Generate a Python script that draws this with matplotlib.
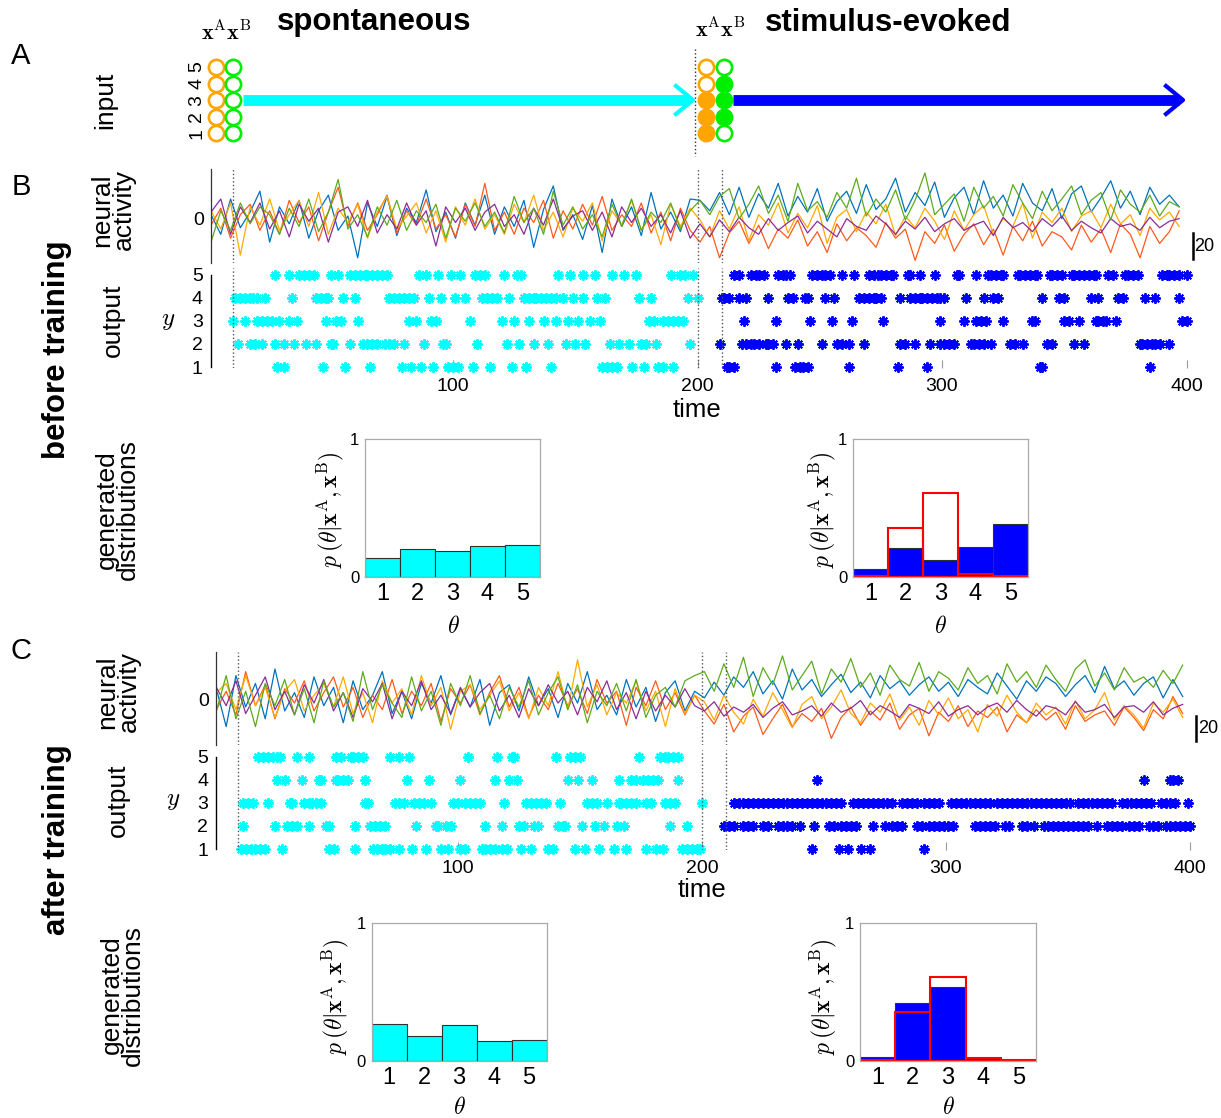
import numpy as np
import matplotlib.pyplot as plt

plt.rcParams['font.family'] = ['Liberation Sans', 'DejaVu Sans']
plt.rcParams['mathtext.fontset'] = 'cm'

W, H = 1221, 1118

# ---------------- data ----------------
theta = [1, 2, 3, 4, 5]
p_target = [0.01, 0.355, 0.61, 0.025, 0.005]
p_spont_before = [0.135, 0.205, 0.185, 0.228, 0.235]
p_evoked_before = [0.06, 0.208, 0.123, 0.22, 0.383]
p_spont_after = [0.267, 0.183, 0.26, 0.144, 0.151]
p_evoked_after = [0.031, 0.42, 0.535, 0.02, 0.0]

# input units 1..5, 1 = active
input_rows = [1, 2, 3, 4, 5]
xA_spont = [0, 0, 0, 0, 0]
xB_spont = [0, 0, 0, 0, 0]
xA_evoked = [1, 1, 1, 0, 0]
xB_evoked = [0, 1, 1, 1, 0]

epoch_marks = [10, 200, 210]
time_ticks = [100, 200, 300, 400]

# neural activity, sampled every 4 time steps (t = 1, 5, ..., 397)
t_act = np.arange(1, 400, 4)

b_blue = [3, -12, 15, -7, 5, 21, -18, 9, -4, 14,
          -15, 6, 18, -9, 2, -30, 12, -6, 17, -13,
          8, -3, 22, -10, 5, -15, 12, -5, 18, -12,
          9, -6, 14, -22, 7, 25, -9, 3, -16, 10,
          -26, 15, -6, 9, -13, 20, -8, 5, -10, 15,
          14, 6, 20, 3, 24, 1, 19, 8, 27, 2,
          17, 5, 23, -2, 13, 21, 4, 26, 7, 15,
          31, 5, 20, 10, 28, 1, 16, 24, 3, 29,
          8, 18, 2, 27, 12, 6, 23, 0, 19, 25,
          5, 16, 29, 8, 21, 3, 24, 11, 18, 9]
b_red = [-5, 8, -15, 3, 11, -9, 6, -12, 14, -3,
         9, -17, 5, 24, -6, 12, -9, 3, 18, -11,
         6, -5, 15, -8, 3, -14, 11, -6, 27, -9,
         5, -12, 8, -3, 14, -15, 6, -8, 11, -5,
         17, -9, 3, -6, 12, -11, 5, -17, 8, -9,
         -18, -6, -30, -11, -2, -19, -5, -23, -8, -15,
         -1, -21, -10, -26, -4, -17, -7, -13, -22, -3,
         -15, -8, -32, -10, -19, -5, -25, -12, -4, -20,
         -8, -28, -6, -17, -2, -21, -10, -14, -24, -5,
         -18, -8, -26, -4, -12, -30, -6, -19, -10, 6]
b_orange = [6, -8, 12, -28, 9, -5, 15, -9, 3, 14,
            -6, 20, -12, 8, -3, 11, -15, 5, 17, -8,
            2, 12, -11, 6, -18, 9, -5, 15, -8, 3,
            -12, 11, -3, 18, -9, 5, -14, 8, -2, 12,
            -17, 6, -5, 14, -9, 3, -20, 11, -6, 8,
            -1, -14, 6, -8, 9, -17, 3, -5, 12, -11,
            4, -7, 10, -19, 1, 7, -10, 5, -4, 11,
            -13, 2, -7, 8, -2, -16, 6, -9, 3, 10,
            -12, 0, -6, 12, -15, 5, -3, 8, -10, 2,
            6, -7, 11, -4, 3, -13, 8, -1, 5, -6]
b_purple = [5, 15, -12, 9, -3, 12, -8, 6, -14, 11,
            -2, 8, -18, 5, 9, -6, 14, -11, 3, -8,
            12, -5, 6, -21, 9, -3, 8, -9, 5, 11,
            -6, 3, -12, 8, -5, 15, -8, 2, 6, -9,
            5, -14, 9, -3, 8, -6, 3, -11, 6, -15,
            -4, -14, -1, -10, 1, -7, -12, 0, -9, -3,
            2, -11, -2, -8, -14, 0, -6, -9, 2, -4,
            -12, -2, -8, 1, -10, -4, 0, -9, -5, -2,
            -13, 1, -7, -3, -10, 0, -6, 2, -9, -2,
            -7, -11, 0, -6, -4, -9, 1, -7, -2, 0]
b_green = [-18, 6, -9, 12, -4, 9, 3, -12, 8, -6,
           15, -10, 5, 30, -8, 3, -14, 9, -5, 14,
           -9, 6, -3, 11, -15, 8, -2, 12, -6, 5,
           -11, 17, -3, 8, -12, 21, -5, 9, -8, 3,
           -14, 11, -6, 15, -9, 5, -3, 12, -8, 6,
           14, 3, 17, 23, 0, 11, 25, 4, 18, -2,
           27, 6, 13, 1, 20, 8, 31, 2, 15, 5,
           22, -1, 14, 35, 3, 11, 19, -2, 24, 8,
           17, 2, 26, 12, 0, 21, 6, 15, 25, 3,
           14, 20, -1, 22, 11, 5, 18, 2, 13, 9]

c_blue = [8, -21, 18, -6, 12, -15, 23, -9, 5, -14,
          17, -5, 9, -18, 14, -8, 3, 21, -11, 6,
          -15, 12, -3, 18, -12, 8, -6, 15, -20, 5,
          11, -9, 17, -5, 8, -14, 12, -3, 21, -8,
          3, -12, 15, -6, 9, -17, 5, 14, -9, 6,
          1, 13, 3, 17, 9, 21, 4, 14, 0, 23,
          7, 15, 2, 11, 19, 5, 13, 1, 18, 8,
          14, 3, 11, 17, 6, 13, 2, 15, 9, 4,
          20, 10, 0, 14, 6, 17, 12, 2, 11, 18,
          5, 25, 8, 14, 3, 12, 17, 1, 15, 2]
c_red = [-8, 6, -12, 21, -5, 11, -15, 8, -3, 14,
         -9, 5, 17, -6, 9, -14, 3, -8, 15, -11,
         6, -5, 12, -17, 8, -3, 11, -12, 5, 18,
         -6, 9, -14, 3, -8, 12, -5, 8, -11, 15,
         -3, 6, -20, 9, -5, 14, -8, 5, -12, 3,
         -9, -19, -4, -25, -13, -6, -27, -15, -4, -21,
         -11, -17, -7, -30, -14, -6, -20, -9, -16, -3,
         -23, -12, -7, -28, -10, -17, -5, -21, -9, -14,
         -6, -25, -12, -18, -8, -16, -10, -23, -5, -17,
         -12, -9, -20, -6, -14, -24, -8, -15, 2, -11]
c_orange = [5, 12, -8, 18, -5, 9, -14, 6, 15, -9,
            3, 12, -6, 17, -11, 5, -18, 14, -3, 8,
            -12, 18, -5, 9, -23, 6, 11, -8, 3, 14,
            -9, 5, -15, 9, -5, 21, -8, 30, -6, 11,
            -12, 5, -3, 14, -9, 6, -21, 8, -11, 3,
            -2, -16, 3, -10, -19, 0, -13, 5, -8, -22,
            -4, 2, -15, -6, 7, -11, -18, -3, -10, 4,
            -16, -6, -20, -1, -12, 1, -15, -8, -25, -4,
            -13, 3, -10, -18, -3, -12, -6, -19, -1, -15,
            -8, 5, -16, -5, -12, -22, -3, -10, 0, -14]
c_purple = [9, -5, 14, -11, 3, 17, -8, 6, -12, 11,
            -3, 15, -9, 5, -14, 8, -2, 12, -15, 6,
            -5, 14, -8, 3, -11, 9, -6, 5, 12, -9,
            3, -14, 8, -5, 11, -3, 6, -12, 9, -2,
            14, -8, 5, -15, 6, -9, 3, -6, 8, -5,
            -9, -2, -13, -6, -10, -4, -14, -7, -2, -12,
            -9, -5, -13, -3, -10, -7, -1, -12, -5, -9,
            -14, -4, -7, -11, -2, -13, -8, -5, -12, -6,
            -3, -10, -1, -8, -13, -5, -7, -12, -2, -10,
            -8, -4, -14, -6, -5, -10, -2, -12, -7, -4]
c_green = [-9, 18, -15, 6, -21, 12, -5, 15, -12, 8,
           -18, 14, -6, 5, -17, 21, -8, 11, -3, -14,
           17, -9, 6, -20, 12, -5, 18, -11, 3, -15,
           9, -6, 14, -12, 5, 17, -8, 11, -18, 6,
           -5, 12, -9, 15, -14, 3, 9, -6, 14, 18,
           21, 6, 27, 9, 32, 2, 24, 11, 33, 7,
           18, 29, 4, 23, 13, 31, 9, 20, 3, 26,
           15, 10, 28, 6, 21, 16, 7, 24, 12, 18,
           4, 27, 13, 21, 9, 26, 15, 6, 23, 30,
           10, 20, 7, 24, 13, 17, 9, 22, 12, 26]

# output spikes, one list per output unit y = 1..5
b_spont_spikes = [
    [28, 31, 47, 56, 66, 79, 83, 87, 92, 98, 100, 102, 108, 115, 124, 130, 140,
     161, 163, 165, 167, 173, 178, 184, 186, 190],
    [12, 17, 19, 22, 27, 31, 35, 40, 44, 50, 51, 58, 63, 65, 67, 69, 72, 74, 76,
     80, 88, 96, 97, 110, 122, 127, 133, 139, 146, 150, 154, 164, 168, 172, 177,
     179, 183, 197],
    [10, 15, 20, 22, 24, 26, 29, 33, 36, 48, 52, 54, 61, 82, 85, 91, 93, 107, 120,
     125, 131, 137, 142, 147, 151, 156, 160, 180, 182, 186, 188, 190, 192, 194],
    [11, 13, 15, 17, 18, 20, 23, 34, 44, 46, 48, 49, 55, 60, 74, 76, 78, 80, 82,
     84, 90, 95, 101, 105, 112, 114, 116, 118, 123, 129, 131, 133, 134, 136, 138,
     140, 142, 145, 149, 153, 159, 162, 176, 181, 196, 200],
    [27, 33, 37, 39, 41, 43, 50, 53, 58, 60, 62, 64, 65, 67, 69, 71, 73, 86, 89,
     94, 99, 103, 109, 111, 113, 121, 126, 128, 143, 148, 153, 158, 165, 170, 175,
     189, 193, 195, 198],
]
b_evoked_spikes = [
    [212, 213, 215, 232, 240, 242, 243, 245, 262, 282, 294, 340, 341, 385],
    [209, 218, 220, 222, 223, 225, 228, 229, 231, 236, 241, 251, 257, 259, 262,
     268, 283, 285, 289, 295, 299, 301, 303, 305, 312, 313, 315, 317, 320, 328,
     330, 333, 343, 345, 354, 358, 381, 382, 384, 386, 387, 389, 393],
    [219, 232, 246, 255, 263, 276, 299, 309, 314, 316, 318, 325, 337, 338, 350,
     352, 356, 363, 364, 366, 367, 371, 398, 400],
    [210, 211, 213, 217, 220, 229, 237, 239, 244, 245, 252, 256, 266, 268, 270,
     272, 273, 275, 283, 287, 289, 291, 292, 294, 296, 298, 299, 301, 310, 317,
     321, 323, 341, 348, 350, 361, 364, 372, 374, 383, 387, 397],
    [215, 217, 222, 224, 225, 227, 233, 235, 236, 238, 247, 249, 251, 252, 254,
     259, 264, 270, 272, 274, 275, 277, 279, 280, 286, 287, 291, 297, 306, 307,
     314, 319, 320, 322, 324, 325, 331, 332, 334, 336, 338, 339, 344, 345, 347,
     349, 353, 354, 356, 358, 360, 362, 363, 368, 370, 375, 376, 378, 380, 390,
     392, 393, 395, 397, 400],
]
c_spont_spikes = [
    [11, 13, 15, 17, 19, 21, 28, 47, 49, 58, 65, 67, 69, 70, 72, 76, 81, 87, 93,
     96, 101, 103, 110, 111, 113, 115, 118, 120, 126, 130, 137, 139, 148, 152,
     158, 164, 169, 177, 181, 184, 192, 194, 196, 198, 199],
    [12, 25, 30, 32, 34, 39, 46, 47, 58, 64, 66, 68, 70, 83, 91, 92, 95, 97, 111,
     118, 125, 127, 131, 133, 141, 143, 144, 151, 156, 160, 165, 168, 187, 194],
    [12, 14, 16, 22, 31, 32, 37, 39, 40, 42, 44, 62, 63, 74, 76, 78, 82, 84, 86,
     89, 98, 100, 103, 105, 107, 109, 119, 128, 130, 132, 134, 136, 142, 153, 155,
     157, 161, 166, 167, 169, 171, 173, 177, 179, 185, 187, 189, 200],
    [26, 29, 36, 43, 44, 50, 51, 53, 55, 62, 79, 88, 101, 115, 121, 124, 145, 149,
     155, 166, 171, 173, 176, 178, 180, 182, 190],
    [18, 20, 22, 24, 26, 27, 34, 39, 50, 52, 56, 57, 59, 61, 72, 76, 80, 104, 116,
     122, 123, 140, 146, 148, 150, 174, 183, 185, 186, 188, 190],
]
c_evoked_spikes = [
    [245, 256, 260, 265, 269, 291],
    [209, 211, 213, 217, 219, 221, 225, 227, 231, 233, 235, 237, 240, 246, 252,
     254, 257, 259, 261, 263, 270, 275, 278, 280, 282, 288, 290, 293, 295, 297,
     299, 301, 303, 312, 314, 316, 318, 320, 324, 326, 331, 333, 336, 340, 342,
     344, 346, 348, 350, 352, 354, 356, 358, 362, 366, 368, 370, 372, 375, 377,
     379, 383, 385, 387, 390, 392, 394, 396, 398, 400],
    [213, 215, 217, 219, 221, 223, 225, 227, 229, 231, 233, 235, 237, 239, 241,
     243, 245, 247, 249, 251, 253, 255, 257, 262, 264, 266, 268, 270, 272, 274,
     276, 278, 282, 284, 286, 288, 291, 293, 295, 297, 302, 304, 306, 308, 310,
     312, 314, 316, 318, 321, 323, 325, 327, 329, 331, 333, 335, 337, 339, 341,
     343, 345, 347, 349, 351, 354, 356, 358, 360, 362, 364, 366, 368, 372, 374,
     376, 378, 380, 382, 384, 388, 390, 392, 394, 399],
    [247, 381, 392, 393, 395],
    [],
]

trace_colors = ['#0072BD', '#FF5A1A', '#FFAA00', '#8A2C96', '#5DAA1C']
spont_color = '#00FFFF'
evoked_color = '#0000FF'
orange_in = '#FFA500'
green_in = '#00EE00'

fig = plt.figure(figsize=(W / 100, H / 100), dpi=100)


def ax_box(x0, y0, x1, y1):
    """axes from a pixel box (top-left origin)"""
    return fig.add_axes([x0 / W, 1 - y1 / H, (x1 - x0) / W, (y1 - y0) / H])


def ftext(x, y, s, **kw):
    kw.setdefault('ha', 'center')
    kw.setdefault('va', 'center')
    fig.text(x / W, 1 - y / H, s, **kw)


def activity_panel(x0, x1, y0, y1, ylim, traces, bar_y):
    ax = ax_box(x0, y0, x1, y1)
    ax.patch.set_visible(False)
    for vals, c in zip(traces, trace_colors):
        ax.plot(t_act, vals, color=c, lw=0.9)
    for tm in epoch_marks:
        ax.axvline(tm, color='#555555', ls=':', lw=1)
    ax.set_xlim(1, 400)
    ax.set_ylim(*ylim)
    for s in ['top', 'right', 'bottom']:
        ax.spines[s].set_visible(False)
    ax.spines['left'].set_color('#333333')
    ax.spines['left'].set_linewidth(0.9)
    ax.set_xticks([])
    ax.set_yticks([0])
    ax.tick_params(axis='y', length=0, labelsize=14, pad=5)
    # scale bar
    ax.plot([402.5, 402.5], bar_y, color='k', lw=1.8, clip_on=False)
    ax.text(403.3, np.mean(bar_y), '20', fontsize=13, va='center', ha='left')
    return ax


def raster_panel(x0, x1, y0, y1, spont, evoked):
    ax = ax_box(x0, y0, x1, y1)
    ax.patch.set_visible(False)
    for spikes, col in [(spont, spont_color), (evoked, evoked_color)]:
        for unit, times in zip(input_rows, spikes):
            ax.plot(times, [unit] * len(times), ls='none', marker=(8, 2, 0),
                    ms=7.5, mew=1.4, color=col, clip_on=False)
    for tm in epoch_marks:
        ax.axvline(tm, color='#555555', ls=':', lw=1)
    ax.set_xlim(1, 400)
    ax.set_ylim(0.957, 5.3)
    for s in ['top', 'right', 'bottom']:
        ax.spines[s].set_visible(False)
    ax.spines['left'].set_bounds(1, 5)
    ax.spines['left'].set_linewidth(1.0)
    ax.set_yticks(input_rows)
    ax.tick_params(axis='y', length=0, labelsize=14, pad=6)
    ax.set_xticks(time_ticks)
    ax.tick_params(axis='x', direction='in', length=6, color='#9a9a9a',
                   labelsize=14, pad=7)
    return ax


def dist_panel(x0, y0, x1, y1, vals, color, target=None):
    ax = ax_box(x0, y0, x1, y1)
    ax.bar(theta, vals, width=1, color=color, edgecolor='#303030', lw=0.8)
    if target is not None:
        ax.bar(theta, target, width=1, fill=False, edgecolor='#FF0000', lw=1.5)
    ax.set_xlim(0.5, 5.5)
    ax.set_ylim(0, 1)
    for s in ax.spines.values():
        s.set_color('#aaaaaa')
        s.set_linewidth(0.9)
    ax.set_xticks(theta)
    ax.set_yticks([0, 1])
    ax.tick_params(length=0)
    ax.tick_params(axis='x', labelsize=17, pad=4)
    ax.tick_params(axis='y', labelsize=12, pad=4)
    return ax


# ---------------- panel B (before training) ----------------
activity_panel(211, 1186.5, 169, 263, (-34, 38),
               [b_blue, b_red, b_orange, b_purple, b_green], [-31, -11])
raster_panel(211, 1186.5, 268, 368, b_spont_spikes, b_evoked_spikes)
dist_panel(365, 439, 540, 577, p_spont_before, spont_color)
dist_panel(853, 439, 1028, 577, p_evoked_before, evoked_color, p_target)

# ---------------- panel C (after training) ----------------
activity_panel(216.4, 1190, 652, 745, (-35, 36),
               [c_blue, c_red, c_orange, c_purple, c_green], [-32, -12.5])
raster_panel(216.4, 1190, 750, 850, c_spont_spikes, c_evoked_spikes)
dist_panel(371.5, 923, 546.5, 1061, p_spont_after, spont_color)
dist_panel(860, 923, 1036, 1061, p_evoked_after, evoked_color, p_target)

# ---------------- panel A (input) + annotations ----------------
ov = fig.add_axes([0, 0, 1, 1])
ov.set_xlim(0, W)
ov.set_ylim(H, 0)
ov.axis('off')


def row_y(unit):
    return 150 - 16.6 * unit


for col_x, states, col in [(215.7, xA_spont, orange_in), (233.3, xB_spont, green_in),
                           (706.4, xA_evoked, orange_in), (724.3, xB_evoked, green_in)]:
    for unit, on in zip(input_rows, states):
        ov.plot(col_x, row_y(unit), 'o', ms=11, mew=1.9, mec=col,
                mfc=col if on else 'white')

for unit in input_rows:
    ftext(197, row_y(unit), str(unit), rotation=90, fontsize=14)

# epoch arrows
ov.plot([243, 689], [100, 100], color=spont_color, lw=7.8, solid_capstyle='butt')
ov.plot([676, 693, 676], [86, 100, 114], color=spont_color, lw=3)
ov.plot([733, 1179], [100, 100], color=evoked_color, lw=7.8, solid_capstyle='butt')
ov.plot([1166, 1183, 1166], [86, 100, 114], color=evoked_color, lw=3)
ov.plot([695, 695], [49, 156], color='#333333', ls=':', lw=1)

xAxB = r'$\mathbf{x}^{\mathrm{A}}\mathbf{x}^{\mathrm{B}}$'
ftext(226, 33, xAxB, fontsize=16)
ftext(720, 30, xAxB, fontsize=16)
ftext(374, 22, 'spontaneous', fontsize=22.5, fontweight='bold')
ftext(888, 23, 'stimulus-evoked', fontsize=22.5, fontweight='bold')

ftext(21, 56, 'A', fontsize=21)
ftext(21, 187, 'B', fontsize=21)
ftext(21, 651, 'C', fontsize=21)
ftext(105, 100, 'input', rotation=90, fontsize=19)

ftext(57, 350, 'before training', rotation=90, fontsize=22.5, fontweight='bold')
ftext(57, 840, 'after training', rotation=90, fontsize=22.5, fontweight='bold')

for y_act, y_out, y_gen, x_off, y_time, x_time in [(210, 320, 510, 0, 410, 697),
                                                   (692, 800, 995, 5, 890, 702)]:
    ftext(113 + x_off, y_act, 'neural\nactivity', rotation=90, fontsize=19,
          linespacing=0.9)
    ftext(113 + x_off, y_out, 'output', rotation=90, fontsize=19)
    ftext(168 + x_off, y_out, r'$y$', fontsize=18)
    ftext(x_time, y_time, 'time', fontsize=18.5)
    ftext(117 + x_off, y_gen, 'generated\ndistributions', rotation=90,
          fontsize=19, linespacing=0.85)

ylab = r'$p\,(\theta|\mathbf{x}^{\mathrm{A}},\mathbf{x}^{\mathrm{B}})$'
for x, y in [(330, 510), (822, 510), (335, 997), (823, 997)]:
    ftext(x, y, ylab, rotation=90, fontsize=17)
for x, y in [(453, 627), (940, 627), (459, 1108), (948, 1108)]:
    ftext(x, y, r'$\theta$', fontsize=17)

fig.savefig('out.png', dpi=100)
